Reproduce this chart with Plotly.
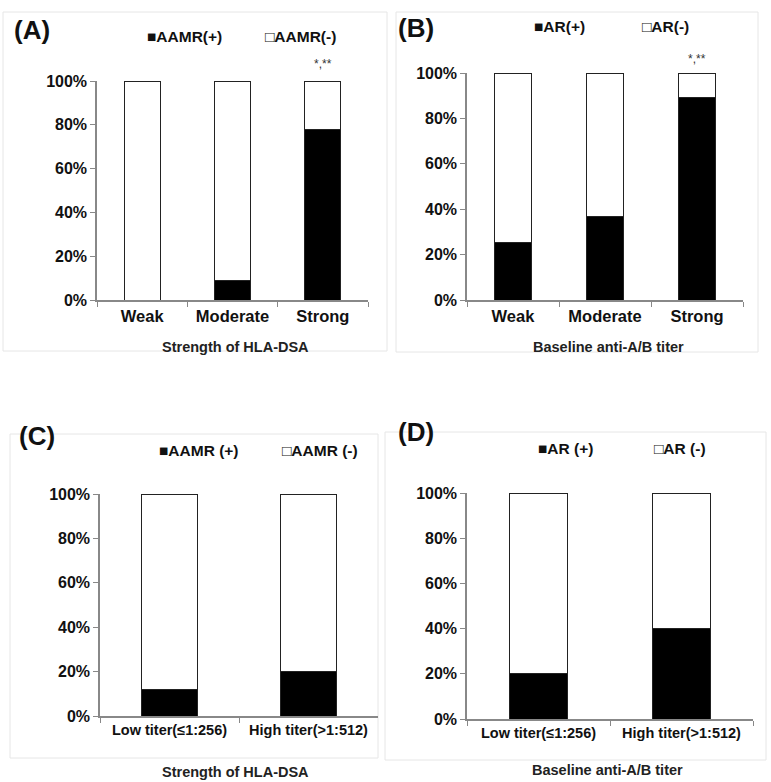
import plotly.graph_objects as go

W, H = 771, 782

# ---- data ----
cats_ab = ["Weak", "Moderate", "Strong"]
cats_cd = ["Low titer(≤1:256)", "High titer(>1:512)"]

a_pos = [0.0, 0.09, 0.78]
a_neg = [1.0, 0.91, 0.22]
b_pos = [0.255, 0.37, 0.89]
b_neg = [0.745, 0.63, 0.11]
c_pos = [0.12, 0.20]
c_neg = [0.88, 0.80]
d_pos = [0.20, 0.40]
d_neg = [0.80, 0.60]

yticks = [0, 0.2, 0.4, 0.6, 0.8, 1.0]
ytick_text = ["0%", "20%", "40%", "60%", "80%", "100%"]

legend_a = ["■AAMR(+)", "□AAMR(-)"]
legend_b = ["■AR(+)", "□AR(-)"]
legend_c = ["■AAMR (+)", "□AAMR (-)"]
legend_d = ["■AR (+)", "□AR (-)"]
panel_labels = ["(A)", "(B)", "(C)", "(D)"]
xtitles = ["Strength of HLA-DSA", "Baseline anti-A/B titer",
           "Strength of HLA-DSA", "Baseline anti-A/B titer"]
sig = "*,**"

FONT = "Liberation Sans, Arial, sans-serif"


def px(x):
    return x / W


def py(y):
    return 1 - y / H


fig = go.Figure()

panels = [
    (cats_ab, a_pos, a_neg, "", 97, 368, 81, 300, 16.5),
    (cats_ab, b_pos, b_neg, "2", 467, 743, 73, 300, 16.5),
    (cats_cd, c_pos, c_neg, "3", 100, 378, 494, 716, 14.5),
    (cats_cd, d_pos, d_neg, "4", 467, 753, 493, 719, 14.5),
]

for cats, pos, neg, idx, x0, x1, yt, yb, fs in panels:
    xa = "x" + idx
    ya = "y" + idx
    fig.add_trace(go.Bar(x=cats, y=pos, xaxis=xa, yaxis=ya, width=0.4,
                         marker=dict(color="black", line=dict(color="#222", width=1)),
                         showlegend=False, hoverinfo="skip"))
    fig.add_trace(go.Bar(x=cats, y=neg, xaxis=xa, yaxis=ya, width=0.4,
                         marker=dict(color="white", line=dict(color="#222", width=1)),
                         showlegend=False, hoverinfo="skip"))
    fig.layout["xaxis" + idx] = dict(
        domain=[px(x0), px(x1)], anchor=ya, showline=True, linecolor="#888",
        linewidth=1.5, ticks="outside", tickson="boundaries", ticklen=5,
        tickcolor="#888", showgrid=False, tickangle=0, automargin=False,
        tickfont=dict(family=FONT, size=fs, color="#111", weight="bold"),
        range=[-0.5, len(cats) - 0.5], fixedrange=True)
    fig.layout["yaxis" + idx] = dict(
        domain=[py(yb), py(yt)], anchor=xa, showline=True, linecolor="#888",
        linewidth=1.5, ticks="outside", ticklen=5, tickcolor="#888",
        showgrid=False, zeroline=False, range=[0, 1.0], automargin=False,
        tickvals=yticks, ticktext=ytick_text,
        tickfont=dict(family=FONT, size=16, color="#111", weight="bold"),
        fixedrange=True)

fig.update_layout(barmode="stack", bargap=0.6)

# panel frames
frames = [(3, 12, 387, 351), (396, 12, 758, 352), (10, 434, 378, 758), (385, 432, 766, 760)]
shapes = []
for fx0, fy0, fx1, fy1 in frames:
    shapes.append(dict(type="rect", xref="paper", yref="paper",
                       x0=px(fx0), x1=px(fx1), y0=py(fy1), y1=py(fy0),
                       line=dict(color="#e6e6e6", width=1), layer="below"))
fig.update_layout(shapes=shapes)

ann = []
for lab, (lx, ly) in zip(panel_labels, [(12, 30), (396, 28), (17, 436), (396, 432)]):
    ann.append(dict(text=lab, x=px(lx), y=py(ly), xref="paper", yref="paper",
                    xanchor="left", yanchor="middle", showarrow=False,
                    font=dict(family=FONT, size=26, color="#111", weight="bold")))

legs = [
    (legend_a, [(145, 37), (263, 37)]),
    (legend_b, [(532, 27), (640, 27)]),
    (legend_c, [(157, 450), (280, 450)]),
    (legend_d, [(536, 448), (652, 448)]),
]
for texts, poss in legs:
    for t, (lx, ly) in zip(texts, poss):
        ann.append(dict(text=t, x=px(lx), y=py(ly), xref="paper", yref="paper",
                        xanchor="left", yanchor="middle", showarrow=False,
                        font=dict(family=FONT, size=15.5, color="#111", weight="bold")))

for t, (lx, ly) in zip(xtitles, [(235, 347), (608, 347), (235, 772), (607, 770)]):
    ann.append(dict(text=t, x=px(lx), y=py(ly), xref="paper", yref="paper",
                    xanchor="center", yanchor="middle", showarrow=False,
                    font=dict(family=FONT, size=14.5, color="#222", weight="bold")))

ann.append(dict(text=sig, x="Strong", y=1.0, xref="x", yref="y", yshift=17,
                showarrow=False, font=dict(family=FONT, size=12, color="#333")))
ann.append(dict(text=sig, x="Strong", y=1.0, xref="x2", yref="y2", yshift=14,
                showarrow=False, font=dict(family=FONT, size=12, color="#333")))

fig.update_layout(annotations=ann, width=W, height=H,
                  margin=dict(l=0, r=0, t=0, b=0),
                  paper_bgcolor="white", plot_bgcolor="white")

fig.write_html("out.html", config={"displayModeBar": False},
               post_script="document.body.style.margin='0';document.body.style.overflow='hidden';")
